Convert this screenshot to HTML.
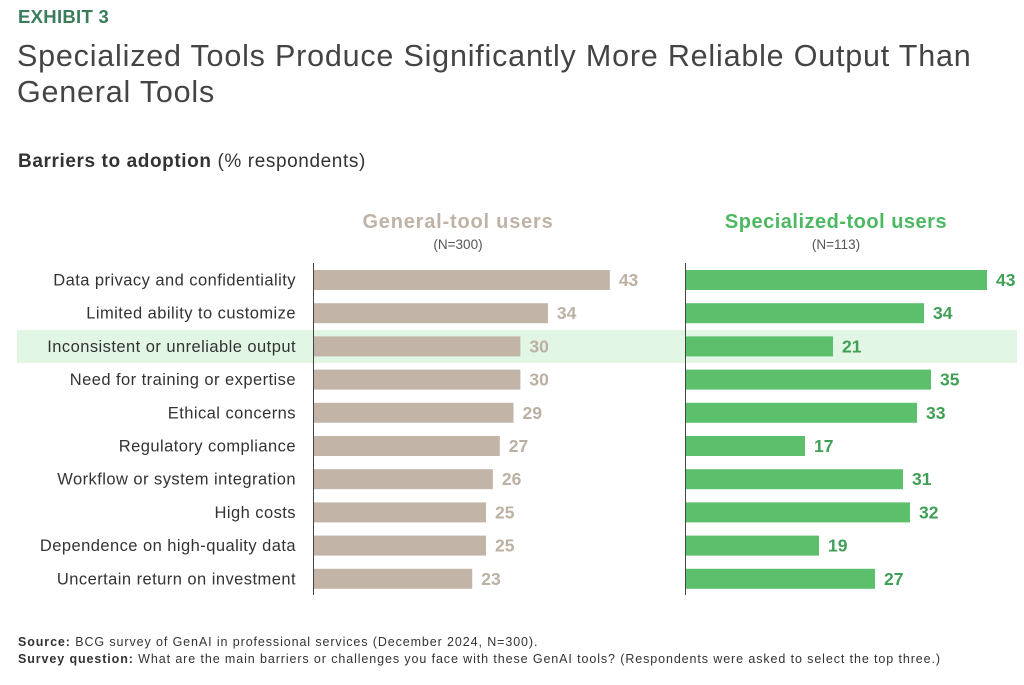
<!DOCTYPE html>
<html><head><meta charset="utf-8"><style>
body{margin:0;width:1024px;height:685px;background:#fff;font-family:"Liberation Sans",sans-serif;position:relative;overflow:hidden}
.a{position:absolute;white-space:nowrap}
</style></head><body>
<div class="a" style="left:18px;top:6px;font-size:18.5px;font-weight:bold;color:#3a7d5a;letter-spacing:0.3px">EXHIBIT 3</div>
<div class="a" style="left:17px;top:38px;font-size:30.5px;line-height:36px;color:#444;letter-spacing:0.8px">Specialized Tools Produce Significantly More Reliable Output Than<br>General Tools</div>
<div class="a" style="left:18px;top:151px;font-size:19px;font-weight:bold;color:#333;letter-spacing:0.6px">Barriers to adoption <span style="font-weight:normal">(% respondents)</span></div>
<svg id="c" width="1024" height="685" style="position:absolute;left:0;top:0"></svg>
<div class="a" style="left:18px;top:634px;font-size:12.5px;color:#333;line-height:17px;letter-spacing:0.9px"><b>Source:</b> BCG survey of GenAI in professional services (December 2024, N=300).<br><b>Survey question:</b> What are the main barriers or challenges you face with these GenAI tools? (Respondents were asked to select the top three.)</div>
<script>
const categories=["Data privacy and confidentiality","Limited ability to customize","Inconsistent or unreliable output","Need for training or expertise","Ethical concerns","Regulatory compliance","Workflow or system integration","High costs","Dependence on high-quality data","Uncertain return on investment"];
const generalValues=[43,34,30,30,29,27,26,25,25,23];
const specializedValues=[43,34,21,35,33,17,31,32,19,27];
const highlightIndex=2;
const svg=document.getElementById('c');const NS="http://www.w3.org/2000/svg";
function mk(t,at,txt){const e=document.createElementNS(NS,t);for(const k in at)e.setAttribute(k,at[k]);if(txt!==undefined)e.textContent=txt;svg.appendChild(e);return e;}
const y0=280,step=33.2,bh=20;
const yPos=i=>y0+i*step;
const xL=v=>v*6.88, xR=v=>v*7.0;
const L0=314,R0=686;
let h=mk('rect',{x:17,y:yPos(highlightIndex)-16.5,width:1000,height:33,fill:'#e1f6e5'});


let t=mk('text',{x:458,y:228,'text-anchor':'middle','font-size':20,'font-weight':'bold',fill:'#bfb3a6','letter-spacing':0.8},'General-tool users');


t=mk('text',{x:458,y:249,'text-anchor':'middle','font-size':13.5,fill:'#555'},'(N=300)');


t=mk('text',{x:836,y:228,'text-anchor':'middle','font-size':20,'font-weight':'bold',fill:'#4cb862','letter-spacing':0.5},'Specialized-tool users');


t=mk('text',{x:836,y:249,'text-anchor':'middle','font-size':13.5,fill:'#555'},'(N=113)');


categories.forEach((c,i)=>{
 const y=yPos(i);
 let e=mk('text',{x:296,y:y+5.5,'text-anchor':'end','font-size':16.5,fill:'#333','letter-spacing':0.45},c);
 
 
 e=mk('rect',{x:L0,y:y-bh/2,width:xL(generalValues[i]),height:bh,fill:'#c2b5a7'});
 
 
 e=mk('text',{x:L0+xL(generalValues[i])+9,y:y+6,'font-size':17.5,'font-weight':'bold',fill:'#bcb0a3'},generalValues[i]);
 
 
 e=mk('rect',{x:R0,y:y-bh/2,width:xR(specializedValues[i]),height:bh,fill:'#5bbf6c'});
 
 
 e=mk('text',{x:R0+xR(specializedValues[i])+9,y:y+6,'font-size':17.5,'font-weight':'bold',fill:'#3f9f55'},specializedValues[i]);
 
 
});
let ax=mk('line',{x1:313.5,x2:313.5,y1:263,y2:595,stroke:'#444','stroke-width':1});


ax=mk('line',{x1:685.5,x2:685.5,y1:263,y2:595,stroke:'#444','stroke-width':1});


</script>
</body></html>
